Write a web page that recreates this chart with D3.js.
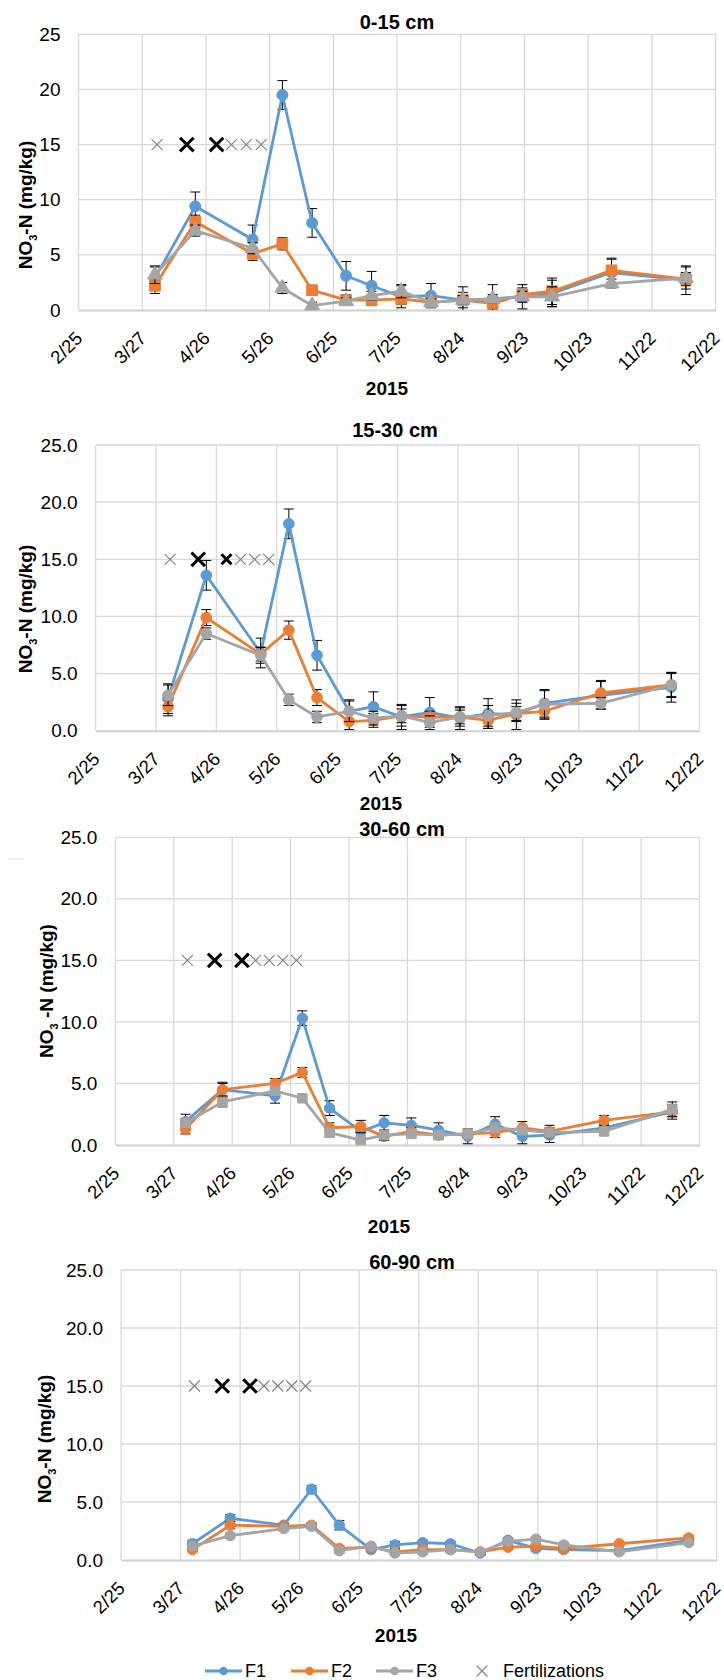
<!DOCTYPE html>
<html>
<head>
<meta charset="utf-8">
<script src="https://cdn.jsdelivr.net/npm/d3@7"></script>
<style>
body { margin: 0; background: #fff; }
text { font-family: "Liberation Sans", Arial, sans-serif; fill: #000; }
</style>
</head>
<body>
<script>
var parseDate = d3.timeParse("%Y-%m-%d");

var sampleDates = ["2015-04-02","2015-04-21","2015-05-18","2015-06-01","2015-06-15","2015-07-01","2015-07-13",
	"2015-07-27","2015-08-10","2015-08-25","2015-09-08","2015-09-22","2015-10-06","2015-11-03","2015-12-08"];
var tickDates = ["2015-02-25","2015-03-27","2015-04-26","2015-05-26","2015-06-25","2015-07-25",
	"2015-08-24","2015-09-23","2015-10-23","2015-11-22","2015-12-22"];
var tickLabels = ["2/25","3/27","4/26","5/26","6/25","7/25","8/24","9/23","10/23","11/22","12/22"];
var yTicks = [0, 5, 10, 15, 20, 25];
var fertDates = ["2015-04-03","2015-04-17","2015-05-01","2015-05-08","2015-05-15","2015-05-22","2015-05-29"];
var fertLevel = 15;
var seriesNames = ["F1","F2","F3"];
var fertName = "Fertilizations";
var depthTitles = ["0-15 cm","15-30 cm","30-60 cm","60-90 cm"];
var xTitle = "2015";

// 0-15 cm
var f1_0_15 = [2.9, 9.4, 6.4, 19.5, 7.9, 3.1, 2.2, 1.2, 1.3, 0.9, 1.0, 1.2, 1.5, 3.4, 2.7];
var f2_0_15 = [2.2, 8.0, 5.1, 6.0, 1.8, 0.9, 0.9, 1.0, 0.7, 0.9, 0.6, 1.4, 1.7, 3.6, 2.8];
var f3_0_15 = [3.2, 7.2, 5.6, 2.0, 0.4, 0.8, 1.3, 1.7, 0.7, 0.9, 1.0, 1.2, 1.2, 2.4, 2.9];
var e1_0_15 = [1.0, 1.3, 1.3, 1.3, 1.3, 1.3, 1.3, 1.0, 1.1, 1.2, 1.3, 1.1, 1.2, 1.2, 1.3];
var e2_0_15 = [0.7, 0.6, 0.6, 0.55, 0.4, 0.5, 0.5, 0.5, 0.3, 0.7, 0.5, 0.6, 1.2, 1.1, 0.6];
var e3_0_15 = [0.8, 0.5, 0.5, 0.5, 0.3, 0.3, 0.4, 0.6, 0.3, 0.4, 0.4, 0.5, 0.9, 0.4, 1.0];
var big_0_15 = [0, 1, 1, 0, 0, 0];

// 15-30 cm
var f1_15_30 = [2.8, 13.6, 6.8, 18.1, 6.6, 1.7, 2.1, 1.2, 1.6, 1.1, 1.5, 1.4, 2.4, 3.1, 3.8];
var f2_15_30 = [2.1, 9.9, 6.7, 8.8, 2.9, 0.8, 0.9, 1.3, 1.2, 1.2, 0.9, 1.5, 1.7, 3.3, 4.0];
var f3_15_30 = [3.1, 8.5, 6.6, 2.7, 1.2, 1.7, 1.1, 1.3, 0.7, 1.2, 1.3, 1.6, 2.3, 2.4, 4.0];
var e1_15_30 = [1.3, 1.3, 1.3, 1.3, 1.3, 1.0, 1.3, 1.1, 1.3, 1.0, 1.3, 1.3, 1.2, 1.2, 1.3];
var e2_15_30 = [0.8, 0.7, 0.6, 0.8, 0.7, 0.7, 0.6, 0.6, 0.5, 0.6, 0.7, 0.6, 0.7, 1.1, 1.1];
var e3_15_30 = [0.9, 0.5, 0.7, 0.5, 0.5, 0.9, 0.6, 0.9, 0.6, 0.8, 0.9, 0.8, 1.2, 0.5, 1.0];
var big_15_30 = [0, 1, 2, 0, 0, 0];

// 30-60 cm
var f1_30_60 = [1.9, 4.5, 4.0, 10.3, 3.0, 1.1, 1.8, 1.6, 1.2, 0.7, 1.7, 0.7, 0.8, 1.4, 2.7];
var f2_30_60 = [1.3, 4.5, 5.0, 5.9, 1.4, 1.5, 0.7, 1.1, 0.8, 0.9, 1.0, 1.4, 1.1, 2.0, 2.7];
var f3_30_60 = [1.8, 3.5, 4.4, 3.8, 1.0, 0.4, 0.8, 0.9, 0.8, 0.9, 1.4, 1.2, 1.0, 1.1, 2.9];
var e1_30_60 = [0.6, 0.6, 0.6, 0.6, 0.6, 0.6, 0.6, 0.6, 0.6, 0.6, 0.6, 0.6, 0.6, 0.3, 0.6];
var e2_30_60 = [0.4, 0.5, 0.4, 0.4, 0.4, 0.5, 0.3, 0.3, 0.3, 0.3, 0.4, 0.5, 0.5, 0.4, 0.4];
var e3_30_60 = [0.3, 0.4, 0.3, 0.3, 0.3, 0.2, 0.4, 0.3, 0.3, 0.3, 0.3, 0.3, 0.3, 0.3, 0.6];
var big_30_60 = [0, 1, 1, 0, 0, 0, 0];

// 60-90 cm
var f1_60_90 = [1.4, 3.6, 3.0, 6.1, 3.0, 0.9, 1.3, 1.5, 1.4, 0.6, 1.7, 1.0, 0.9, 0.8, 1.7];
var f2_60_90 = [0.9, 3.0, 2.9, 3.0, 1.0, 1.1, 0.7, 0.9, 0.9, 0.7, 1.1, 1.2, 1.0, 1.4, 1.9];
var f3_60_90 = [1.2, 2.1, 2.7, 2.9, 0.8, 1.2, 0.6, 0.7, 0.9, 0.7, 1.6, 1.8, 1.3, 0.7, 1.5];
var e1_60_90 = [0.3, 0.3, 0.2, 0.3, 0.4, 0.2, 0.3, 0.2, 0.2, 0.2, 0.2, 0.2, 0.2, 0.1, 0.2];
var e2_60_90 = [0.2, 0.3, 0.2, 0.2, 0.2, 0.2, 0.2, 0.2, 0.2, 0.2, 0.2, 0.2, 0.2, 0.2, 0.2];
var e3_60_90 = [0.2, 0.2, 0.2, 0.2, 0.2, 0.2, 0.2, 0.2, 0.2, 0.2, 0.2, 0.2, 0.2, 0.2, 0.2];
var big_60_90 = [0, 1, 1, 0, 0, 0, 0];

var colors = ["#5b9bd5", "#ed7d31", "#a5a5a5"];
var grid = "#d9d9d9";

var panels = [
	{title: depthTitles[0], vals: [f1_0_15, f2_0_15, f3_0_15], errs: [e1_0_15, e2_0_15, e3_0_15], big: big_0_15,
	 left: 78.5, right: 715.6, top: 34.3, bottom: 310, fmt: d3.format("d"), titleX: 397, titleY: 22,
	 yTitleX: 25, yTitleY: 205, yTitleGap: "", xTitleX: 387, xTitleY: 388,
	 shapes: [d3.symbolCircle, d3.symbolSquare, d3.symbolTriangle], sizes: [95, 115, 95]},
	{title: depthTitles[1], vals: [f1_15_30, f2_15_30, f3_15_30], errs: [e1_15_30, e2_15_30, e3_15_30], big: big_15_30,
	 left: 95.6, right: 699.5, top: 445, bottom: 730.7, fmt: d3.format(".1f"), titleX: 395, titleY: 430,
	 yTitleX: 25, yTitleY: 609, yTitleGap: "", xTitleX: 381, xTitleY: 803,
	 shapes: [d3.symbolCircle, d3.symbolCircle, d3.symbolCircle], sizes: [90, 90, 90]},
	{title: depthTitles[2], vals: [f1_30_60, f2_30_60, f3_30_60], errs: [e1_30_60, e2_30_60, e3_30_60], big: big_30_60,
	 left: 115.4, right: 699.5, top: 837.3, bottom: 1145, fmt: d3.format(".1f"), titleX: 402, titleY: 829,
	 yTitleX: 46, yTitleY: 991, yTitleGap: " ", xTitleX: 389, xTitleY: 1226,
	 shapes: [d3.symbolCircle, d3.symbolCircle, d3.symbolSquare], sizes: [85, 85, 90]},
	{title: depthTitles[3], vals: [f1_60_90, f2_60_90, f3_60_90], errs: [e1_60_90, e2_60_90, e3_60_90], big: big_60_90,
	 left: 121, right: 716.5, top: 1270, bottom: 1560, fmt: d3.format(".1f"), titleX: 412, titleY: 1262,
	 yTitleX: 44, yTitleY: 1439, yTitleGap: "", xTitleX: 396, xTitleY: 1635,
	 shapes: [d3.symbolCircle, d3.symbolCircle, d3.symbolCircle], sizes: [85, 85, 85]}
];

var svg = d3.select("body").append("svg")
	.attr("width", 724)
	.attr("height", 1680);

function crossPath(h){
	return "M" + (-h) + "," + (-h) + "L" + h + "," + h + "M" + (-h) + "," + h + "L" + h + "," + (-h);
}

function draw_panel(p){
	var x = d3.scaleTime()
		.domain([parseDate(tickDates[0]), parseDate(tickDates[tickDates.length - 1])])
		.range([p.left, p.right]);
	var y = d3.scaleLinear().domain([0, 25]).range([p.bottom, p.top]);
	var g = svg.append("g");

	// grid
	g.selectAll(".hg").data(yTicks.slice(1)).enter().append("line")
		.attr("x1", p.left).attr("x2", p.right)
		.attr("y1", function(d){ return y(d); }).attr("y2", function(d){ return y(d); })
		.attr("stroke", grid).attr("stroke-width", 1.3);
	g.selectAll(".vg").data(tickDates).enter().append("line")
		.attr("x1", function(d){ return x(parseDate(d)); }).attr("x2", function(d){ return x(parseDate(d)); })
		.attr("y1", p.top).attr("y2", p.bottom)
		.attr("stroke", grid).attr("stroke-width", 1.3);

	// axes
	var ya = g.append("g")
		.attr("transform", "translate(" + p.left + ",0)")
		.call(d3.axisLeft(y).tickValues(yTicks).tickFormat(p.fmt).tickSize(0).tickPadding(18));
	ya.select(".domain").remove();
	ya.selectAll("text").attr("font-size", 19).attr("font-family", "Liberation Sans, Arial, sans-serif");

	var xa = g.append("g")
		.attr("transform", "translate(0," + p.bottom + ")")
		.call(d3.axisBottom(x).tickValues(tickDates.map(parseDate))
			.tickFormat(function(d, i){ return tickLabels[i]; }).tickSize(0).tickSizeOuter(0));
	xa.select(".domain").attr("stroke", "#d0d0d0").attr("stroke-width", 2);
	xa.selectAll("text")
		.attr("font-size", 18.5).attr("font-family", "Liberation Sans, Arial, sans-serif")
		.attr("x", 0).attr("y", 0).attr("dy", "0.35em")
		.attr("text-anchor", "end")
		.attr("transform", "translate(0,25) rotate(-45)");

	// titles
	g.append("text").attr("x", p.titleX).attr("y", p.titleY).attr("dy", "0.35em")
		.attr("text-anchor", "middle").attr("font-size", 20).attr("font-weight", "bold").text(p.title);
	g.append("text").attr("x", p.xTitleX).attr("y", p.xTitleY).attr("dy", "0.35em")
		.attr("text-anchor", "middle").attr("font-size", 19).attr("font-weight", "bold").text(xTitle);
	var yt = g.append("text")
		.attr("transform", "translate(" + p.yTitleX + "," + p.yTitleY + ") rotate(-90)")
		.attr("dy", "0.35em").attr("text-anchor", "middle")
		.attr("font-size", 19).attr("font-weight", "bold");
	yt.append("tspan").text("NO");
	yt.append("tspan").attr("font-size", 11).attr("dy", 5).text("3");
	yt.append("tspan").attr("dy", -5).text(p.yTitleGap + "-N (mg/kg)");

	// fertilization marks
	var fd = fertDates.slice(0, p.big.length);
	g.selectAll(".fert").data(fd).enter().append("path")
		.attr("transform", function(d){ return "translate(" + x(parseDate(d)) + "," + y(fertLevel) + ")"; })
		.attr("d", function(d, i){ return crossPath(p.big[i] == 1 ? 6.8 : (p.big[i] == 2 ? 5 : 5.5)); })
		.attr("fill", "none")
		.attr("stroke", function(d, i){ return p.big[i] > 0 ? "#000" : "#808080"; })
		.attr("stroke-width", function(d, i){ return p.big[i] > 0 ? 3 : 1.1; });

	// series
	for (var s = 0; s < 3; s++){
		var pts = sampleDates.map(function(d, i){
			return {date: parseDate(d), v: p.vals[s][i], e: p.errs[s][i]};
		});
		var sg = g.append("g");
		var eb = sg.selectAll(".eb").data(pts).enter().append("g")
			.attr("transform", function(d){ return "translate(" + x(d.date) + ",0)"; })
			.attr("stroke", "#000").attr("stroke-width", 1);
		eb.append("line").attr("x1", 0).attr("x2", 0)
			.attr("y1", function(d){ return y(Math.max(0, d.v - d.e)); })
			.attr("y2", function(d){ return y(d.v + d.e); });
		eb.append("line").attr("x1", -5).attr("x2", 5)
			.attr("y1", function(d){ return y(d.v + d.e); }).attr("y2", function(d){ return y(d.v + d.e); });
		eb.filter(function(d){ return d.v - d.e > 0; }).append("line").attr("x1", -5).attr("x2", 5)
			.attr("y1", function(d){ return y(d.v - d.e); }).attr("y2", function(d){ return y(d.v - d.e); });

		sg.append("path").datum(pts)
			.attr("d", d3.line().x(function(d){ return x(d.date); }).y(function(d){ return y(d.v); }))
			.attr("fill", "none").attr("stroke", colors[s]).attr("stroke-width", 2.8)
			.attr("stroke-linejoin", "round");

		sg.selectAll(".mk").data(pts).enter().append("path")
			.attr("transform", function(d){ return "translate(" + x(d.date) + "," + y(d.v) + ")"; })
			.attr("d", d3.symbol().type(p.shapes[s]).size(p.sizes[s]))
			.attr("fill", colors[s]).attr("stroke", colors[s]).attr("stroke-width", 1);
	}
}

for (var k = 0; k < panels.length; k++){
	draw_panel(panels[k]);
}

// small stray mark left of third chart
svg.append("line").attr("x1", 7).attr("x2", 23).attr("y1", 859).attr("y2", 859)
	.attr("stroke", "#e3e3e3").attr("stroke-width", 1);

// legend
var legendY = 1671;
var legendX = [205, 291, 376];
var lg = svg.append("g");
for (var s = 0; s < 3; s++){
	lg.append("line").attr("x1", legendX[s]).attr("x2", legendX[s] + 37)
		.attr("y1", legendY).attr("y2", legendY)
		.attr("stroke", colors[s]).attr("stroke-width", 2.8);
	lg.append("circle").attr("cx", legendX[s] + 18.5).attr("cy", legendY).attr("r", 4.2).attr("fill", colors[s]);
	lg.append("text").attr("x", legendX[s] + 40).attr("y", legendY).attr("dy", "0.35em")
		.attr("font-size", 18).text(seriesNames[s]);
}
lg.append("path").attr("transform", "translate(482," + legendY + ")")
	.attr("d", crossPath(5.5)).attr("fill", "none").attr("stroke", "#808080").attr("stroke-width", 1.1);
lg.append("text").attr("x", 503).attr("y", legendY).attr("dy", "0.35em")
	.attr("font-size", 18).text(fertName);
</script>
</body>
</html>
